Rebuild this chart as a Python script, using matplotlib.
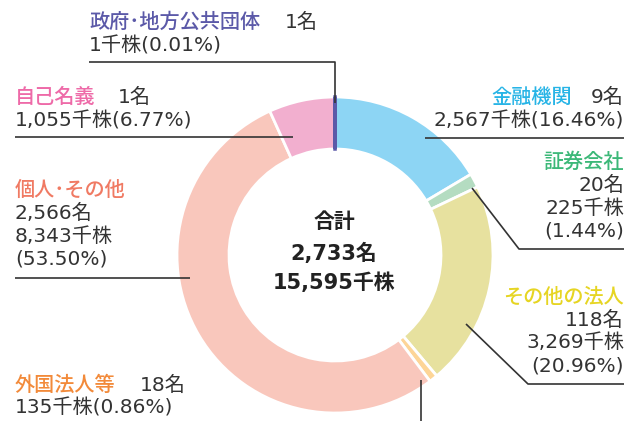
import matplotlib.pyplot as plt

plt.rcParams['font.family'] = ['DejaVu Sans', 'Noto Sans CJK JP']

# shareholder data (clockwise from top)
names = ['政府･地方公共団体', '金融機関', '証券会社', 'その他の法人',
         '外国法人等', '個人･その他', '自己名義']
holders = [1, 9, 20, 118, 18, 2566, 1]
shares = [1, 2567, 225, 3269, 135, 8343, 1055]
pcts = [0.01, 16.46, 1.44, 20.96, 0.86, 53.50, 6.77]
total_holders = 2733
total_shares = 15595

ring_colors = ['#5b59a8', '#8dd5f4', '#b4dcc1', '#e7e19f',
               '#fdd597', '#f9c7bc', '#f2afcf']
label_colors = ['#5b59a8', '#27b4e6', '#3cb878', '#e6d523',
                '#f28a3a', '#f07a63', '#ee6aa8']
dark = '#333333'
fs = 14.5

W, H = 629, 421
fig = plt.figure(figsize=(W / 100, H / 100), dpi=100)
ax = fig.add_axes([0, 0, 1, 1])


def Y(y):
    return H - y


cx, cy, r_out, r_in = 335, 255, 158, 106
wedges, _ = ax.pie(pcts, colors=ring_colors, startangle=90, counterclock=False,
                   center=(cx, Y(cy)), radius=r_out,
                   wedgeprops=dict(width=r_out - r_in, edgecolor='white', linewidth=2))
# the government slice is too thin to see, so give it a stroke
wedges[0].set_edgecolor(ring_colors[0])
wedges[0].set_linewidth(2.5)
wedges[0].set_zorder(5)

ax.set_xlim(0, W)
ax.set_ylim(0, H)
ax.set_aspect('equal')
ax.axis('off')


def t(x, y, s, color=dark, ha='left', **kw):
    ax.text(x, Y(y), s, color=color, ha=ha, va='center', fontsize=fs, **kw)


def lab(x, y, s, color, ha='left'):
    t(x, y, s, color, ha, fontweight='medium')


def line(xs, ys):
    ax.plot(xs, [Y(v) for v in ys], color=dark, lw=1.2, zorder=6,
            solid_capstyle='butt')


def h(i):
    return f'{holders[i]:,}名'


def s(i):
    return f'{shares[i]:,}千株'


def p(i):
    return f'({pcts[i]:.2f}%)'


# 政府・地方公共団体
lab(89, 22, names[0], label_colors[0])
t(285, 22, h(0))
t(89, 46, s(0) + p(0))
line([89, 335, 335], [62, 62, 103])

# 自己名義
lab(15, 97, names[6], label_colors[6])
t(118, 97, h(6))
t(15, 121, s(6) + p(6))
line([15, 293], [137, 137])

# 金融機関
lab(572, 97, names[1], label_colors[1], ha='right')
t(624, 97, h(1), ha='right')
t(624, 121, s(1) + p(1), ha='right')
line([425, 624], [138, 138])

# 証券会社
lab(624, 162, names[2], label_colors[2], ha='right')
t(624, 185, h(2), ha='right')
t(624, 208, s(2), ha='right')
t(624, 231, p(2), ha='right')
line([472, 519, 624], [188, 249, 249])

# その他の法人
lab(624, 297, names[3], label_colors[3], ha='right')
t(624, 320, h(3), ha='right')
t(624, 343, s(3), ha='right')
t(624, 366, p(3), ha='right')
line([466, 528, 624], [324, 384, 384])

# 個人・その他
lab(15, 190, names[5], label_colors[5])
t(15, 213, h(5))
t(15, 236, s(5))
t(15, 259, p(5))
line([15, 190], [278, 278])

# 外国法人等
lab(15, 385, names[4], label_colors[4])
t(140, 385, h(4))
t(15, 408, s(4) + p(4))
line([421, 421], [380, 421])

# centre total
for yy, txt in [(222, '合計'), (253, f'{total_holders:,}名'), (283, f'{total_shares:,}千株')]:
    ax.text(334, Y(yy), txt, ha='center', va='center', fontsize=15,
            fontweight='bold', color='#222222')

fig.savefig('out.png', dpi=100)
